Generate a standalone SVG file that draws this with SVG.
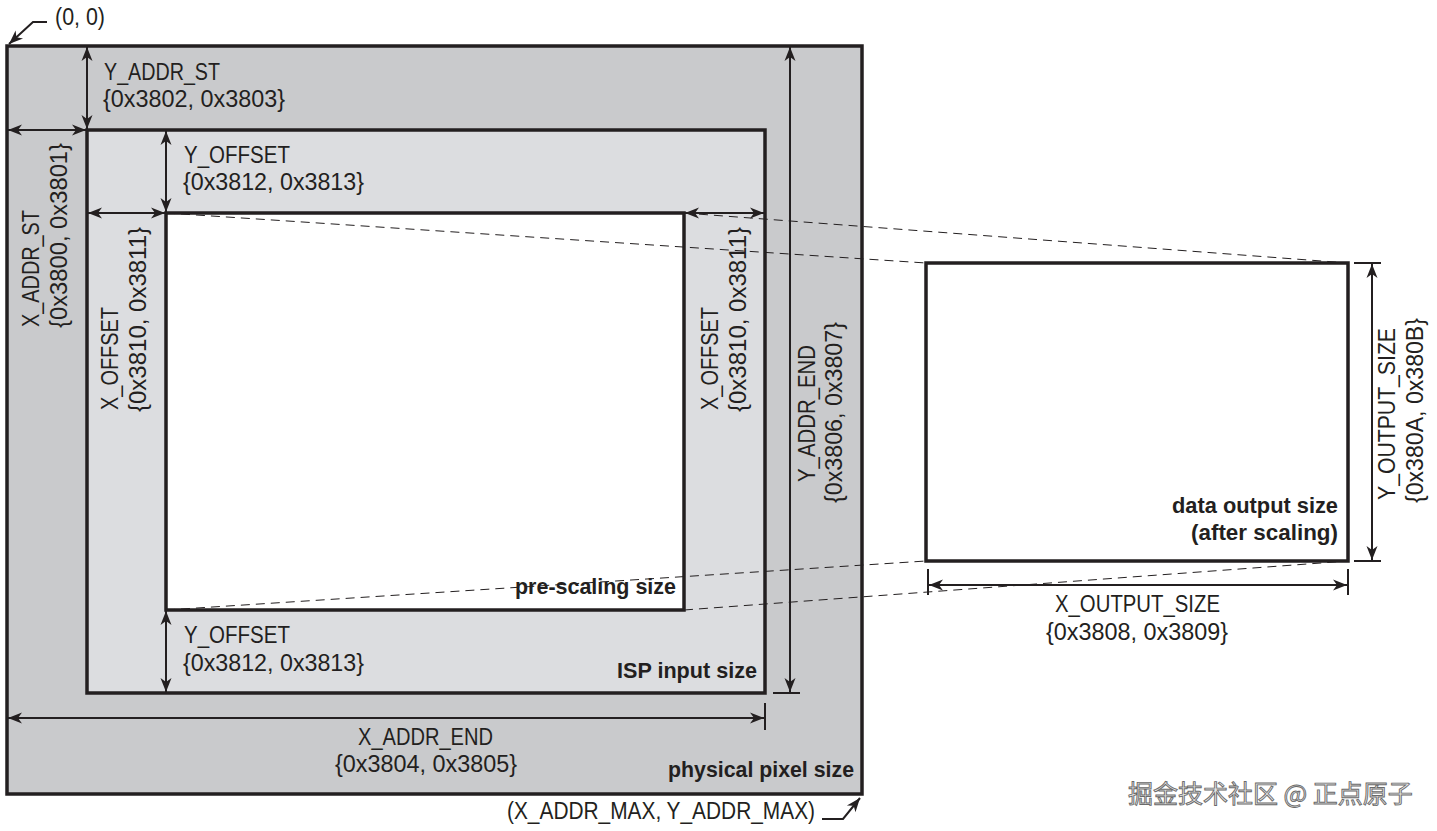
<svg xmlns="http://www.w3.org/2000/svg" width="1437" height="831" viewBox="0 0 1437 831">
<style>
.lbl{font-family:"Liberation Sans",Arial,sans-serif;font-size:23px;fill:#231f20}
.bold{font-family:"Liberation Sans",Arial,sans-serif;font-size:22px;font-weight:bold;fill:#231f20;text-anchor:end}
.box{stroke:#231f20;stroke-width:3.5}
.dim{stroke:#231f20;stroke-width:2;fill:none}
.tick{stroke:#231f20;stroke-width:2}
.dash{stroke:#231f20;stroke-width:1;stroke-dasharray:9 6;fill:none}
.wm{font-family:"Noto Sans CJK SC","Noto Sans",sans-serif;font-size:25px;fill:#e6e6e6;stroke:#6a6a6a;stroke-width:0.9}
</style>
<defs>
<marker id="ah" viewBox="-15 -6 16 12" refX="0" refY="0" markerWidth="16" markerHeight="12" markerUnits="userSpaceOnUse" orient="auto-start-reverse">
<path d="M0,0 L-14,-5.5 L-10,0 L-14,5.5 Z" fill="#231f20"/>
</marker>
</defs>
<rect width="1437" height="831" fill="#ffffff"/>
<g id="physical">
<rect class="box" x="7" y="46" width="855" height="748" fill="#c9cacc"/>
</g>
<g id="isp">
<rect class="box" x="87" y="130" width="678" height="563" fill="#dcdde0"/>
</g>
<g id="prescaling">
<rect class="box" x="166" y="213" width="518" height="397" fill="#ffffff"/>
</g>
<g id="output">
<rect class="box" x="926" y="263" width="422" height="298" fill="#ffffff"/>
</g>
<g id="connectors">
<line class="dash" x1="166" y1="213" x2="926" y2="263"/>
<line class="dash" x1="684" y1="213" x2="1348" y2="263"/>
<line class="dash" x1="166" y1="610" x2="926" y2="561"/>
<line class="dash" x1="684" y1="610" x2="1348" y2="561"/>
<line class="dim" x1="87" y1="47" x2="87" y2="129" marker-start="url(#ah)" marker-end="url(#ah)"/>
<line class="dim" x1="8" y1="130" x2="86" y2="130" marker-start="url(#ah)" marker-end="url(#ah)"/>
<line class="dim" x1="166" y1="131" x2="166" y2="212" marker-start="url(#ah)" marker-end="url(#ah)"/>
<line class="dim" x1="88" y1="213" x2="165" y2="213" marker-start="url(#ah)" marker-end="url(#ah)"/>
<line class="dim" x1="685" y1="213" x2="764" y2="213" marker-start="url(#ah)" marker-end="url(#ah)"/>
<line class="dim" x1="166" y1="611" x2="166" y2="692" marker-start="url(#ah)" marker-end="url(#ah)"/>
<line class="dim" x1="790" y1="47" x2="790" y2="692" marker-start="url(#ah)" marker-end="url(#ah)"/>
<line class="tick" x1="773" y1="693" x2="800" y2="693"/>
<line class="dim" x1="8" y1="718" x2="764" y2="718" marker-start="url(#ah)" marker-end="url(#ah)"/>
<line class="tick" x1="765" y1="703" x2="765" y2="730"/>
<line class="dim" x1="929" y1="585" x2="1347" y2="585" marker-start="url(#ah)" marker-end="url(#ah)"/>
<line class="tick" x1="928" y1="569" x2="928" y2="595"/>
<line class="tick" x1="1348" y1="569" x2="1348" y2="595"/>
<line class="dim" x1="1372" y1="264" x2="1372" y2="560" marker-start="url(#ah)" marker-end="url(#ah)"/>
<line class="tick" x1="1354" y1="263" x2="1381" y2="263"/>
<line class="tick" x1="1354" y1="561" x2="1381" y2="561"/>
<path class="dim" d="M47,22 L33,22 L9,44" marker-end="url(#ah)"/>
<path class="dim" d="M822,819 L843,819 L860,798" marker-end="url(#ah)"/>
</g>
<g id="labels">
<text class="lbl" x="104" y="80" textLength="116" lengthAdjust="spacingAndGlyphs">Y_ADDR_ST</text>
<text class="lbl" x="103" y="107" textLength="182" lengthAdjust="spacingAndGlyphs">{0x3802, 0x3803}</text>
<text class="lbl" x="184" y="163" textLength="106" lengthAdjust="spacingAndGlyphs">Y_OFFSET</text>
<text class="lbl" x="183" y="190" textLength="181" lengthAdjust="spacingAndGlyphs">{0x3812, 0x3813}</text>
<text class="lbl" x="184" y="643" textLength="106" lengthAdjust="spacingAndGlyphs">Y_OFFSET</text>
<text class="lbl" x="183" y="671" textLength="181" lengthAdjust="spacingAndGlyphs">{0x3812, 0x3813}</text>
<text class="lbl" x="358" y="745" textLength="135" lengthAdjust="spacingAndGlyphs">X_ADDR_END</text>
<text class="lbl" x="335" y="772" textLength="182" lengthAdjust="spacingAndGlyphs">{0x3804, 0x3805}</text>
<text class="lbl" x="1055" y="612" textLength="165" lengthAdjust="spacingAndGlyphs">X_OUTPUT_SIZE</text>
<text class="lbl" x="1046" y="640" textLength="182" lengthAdjust="spacingAndGlyphs">{0x3808, 0x3809}</text>
<text class="lbl" x="55" y="25" textLength="50" lengthAdjust="spacingAndGlyphs">(0, 0)</text>
<text class="lbl" x="507" y="819" textLength="308" lengthAdjust="spacingAndGlyphs">(X_ADDR_MAX, Y_ADDR_MAX)</text>
<text class="lbl" transform="translate(39,327) rotate(-90)" textLength="117" lengthAdjust="spacingAndGlyphs">X_ADDR_ST</text>
<text class="lbl" transform="translate(67,328) rotate(-90)" textLength="185" lengthAdjust="spacingAndGlyphs">{0x3800, 0x3801}</text>
<text class="lbl" transform="translate(118,410) rotate(-90)" textLength="103" lengthAdjust="spacingAndGlyphs">X_OFFSET</text>
<text class="lbl" transform="translate(146,412) rotate(-90)" textLength="185" lengthAdjust="spacingAndGlyphs">{0x3810, 0x3811}</text>
<text class="lbl" transform="translate(718,410) rotate(-90)" textLength="103" lengthAdjust="spacingAndGlyphs">X_OFFSET</text>
<text class="lbl" transform="translate(746,412) rotate(-90)" textLength="185" lengthAdjust="spacingAndGlyphs">{0x3810, 0x3811}</text>
<text class="lbl" transform="translate(815,482) rotate(-90)" textLength="137" lengthAdjust="spacingAndGlyphs">Y_ADDR_END</text>
<text class="lbl" transform="translate(842,503) rotate(-90)" textLength="181" lengthAdjust="spacingAndGlyphs">{0x3806, 0x3807}</text>
<text class="lbl" transform="translate(1395,500) rotate(-90)" textLength="172" lengthAdjust="spacingAndGlyphs">Y_OUTPUT_SIZE</text>
<text class="lbl" transform="translate(1423,503) rotate(-90)" textLength="185" lengthAdjust="spacingAndGlyphs">{0x380A, 0x380B}</text>
<text class="bold" x="676" y="594" textLength="161" lengthAdjust="spacingAndGlyphs">pre-scaling size</text>
<text class="bold" x="757" y="678" textLength="140" lengthAdjust="spacingAndGlyphs">ISP input size</text>
<text class="bold" x="854" y="777" textLength="186" lengthAdjust="spacingAndGlyphs">physical pixel size</text>
<text class="bold" x="1338" y="513" textLength="166" lengthAdjust="spacingAndGlyphs">data output size</text>
<text class="bold" x="1338" y="540" textLength="147" lengthAdjust="spacingAndGlyphs">(after scaling)</text>
<text class="wm" x="1128" y="803">掘金技术社区 @ 正点原子</text>
</g>
</svg>
